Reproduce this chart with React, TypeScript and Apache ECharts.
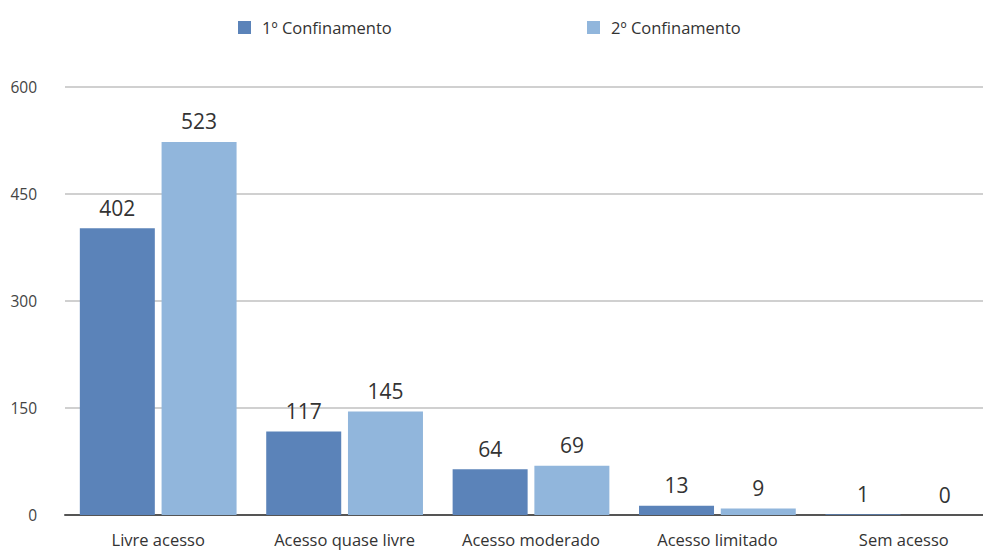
import React, { useEffect, useRef } from "react";
import * as echarts from "echarts";

const categories = ["Livre acesso", "Acesso quase livre", "Acesso moderado", "Acesso limitado", "Sem acesso"];
const seriesNames = ["1º Confinamento", "2º Confinamento"];
const values1 = [402, 117, 64, 13, 1];
const values2 = [523, 145, 69, 9, 0];
const colors = ["#5b83b9", "#91b6dc"];

export default function App() {
  const ref = useRef<HTMLDivElement>(null);
  useEffect(() => {
    if (!ref.current) return;
    const chart = echarts.init(ref.current, undefined, { renderer: "svg" });
    const font = "'Open Sans', 'Noto Sans', sans-serif";
    const legendText = { fontSize: 16.5, color: "#333", fontFamily: font, padding: [0, 0, 0, 6] };
    chart.setOption({
      animation: false,
      textStyle: { fontFamily: font },
      legend: [
        {
          data: [seriesNames[0]],
          left: 233,
          top: 14,
          itemWidth: 13,
          itemHeight: 13,
          icon: "rect",
          textStyle: legendText,
        },
        {
          data: [seriesNames[1]],
          left: 582,
          top: 14,
          itemWidth: 13,
          itemHeight: 13,
          icon: "rect",
          textStyle: legendText,
        },
      ],
      grid: { left: 65, right: -14, top: 87, bottom: 35, containLabel: false, outerBoundsMode: "none" },
      xAxis: {
        type: "category",
        data: categories,
        axisTick: { show: false },
        axisLine: { lineStyle: { color: "#555", width: 2 } },
        axisLabel: { color: "#333", fontSize: 16.5, margin: 16, fontFamily: font },
      },
      yAxis: {
        type: "value",
        min: 0,
        max: 600,
        interval: 150,
        axisLine: { show: false },
        axisTick: { show: false },
        splitLine: { lineStyle: { color: "#d0d0d0", width: 2 } },
        axisLabel: { color: "#444", fontSize: 15.5, margin: 28, fontFamily: font },
      },
      series: [
        {
          name: seriesNames[0],
          type: "bar",
          data: values1,
          barWidth: 75,
          barGap: "9%",
          itemStyle: { color: colors[0] },
          label: { show: true, position: "top", distance: 10, fontSize: 21, color: "#333", fontFamily: font },
        },
        {
          name: seriesNames[1],
          type: "bar",
          data: values2,
          barWidth: 75,
          barGap: "9%",
          itemStyle: { color: colors[1] },
          label: { show: true, position: "top", distance: 10, fontSize: 21, color: "#333", fontFamily: font },
        },
      ],
    });
    return () => chart.dispose();
  }, []);
  return <div ref={ref} style={{ width: 983, height: 550, position: "absolute", left: 0, top: 0 }} />;
}
